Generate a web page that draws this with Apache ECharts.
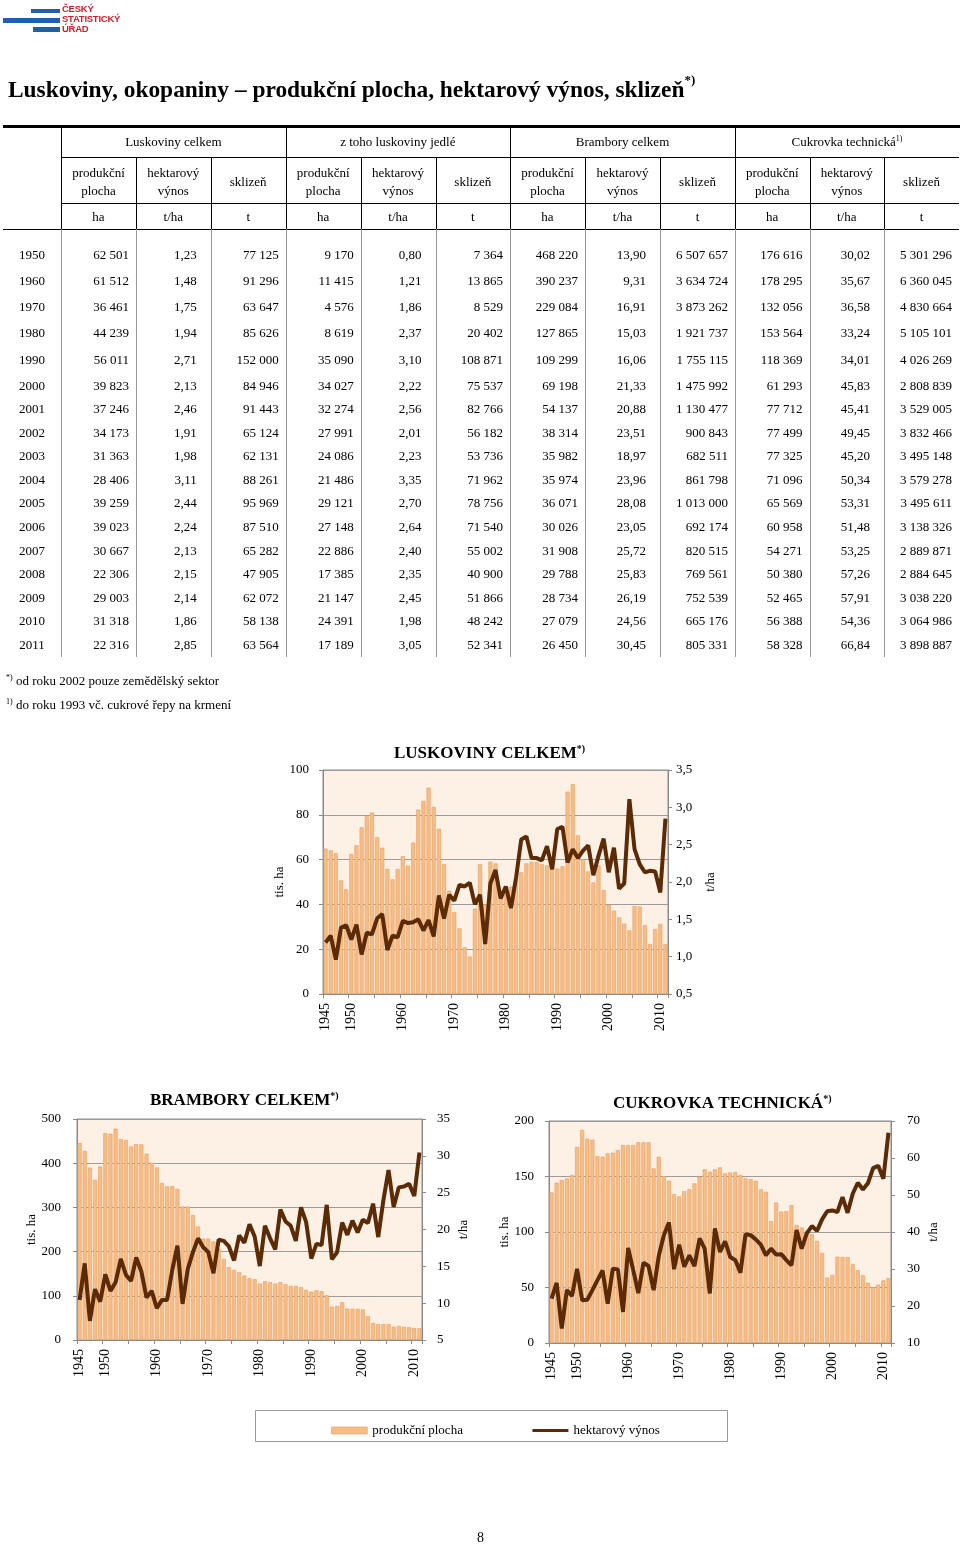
<!DOCTYPE html>
<html><head><meta charset="utf-8">
<script src="https://cdn.jsdelivr.net/npm/echarts@6/dist/echarts.min.js"></script>
<style>
html,body{margin:0;padding:0;background:#fff;}
body{width:960px;height:1546px;position:relative;overflow:hidden;font-family:"Liberation Serif","Times New Roman",serif;color:#000;}
#chart{position:absolute;left:0;top:0;width:960px;height:1546px;z-index:1;}
#page{position:absolute;left:0;top:0;width:960px;height:1546px;z-index:2;pointer-events:none;}
.t{position:absolute;white-space:nowrap;font-size:13px;line-height:18px;}
.ln{position:absolute;background:#000;}
sup{font-size:8px;vertical-align:top;position:relative;top:-3px;}
</style></head><body>
<div id="chart"></div>
<div id="page"></div>
<script>
// ---------------- DATA ----------------
const tableYears = ['1950','1960','1970','1980','1990','2000','2001','2002','2003','2004','2005','2006','2007','2008','2009','2010','2011'];
const luskPlocha = [62501,61512,36461,44239,56011,39823,37246,34173,31363,28406,39259,39023,30667,22306,29003,31318,22316];
const luskVynos  = [1.23,1.48,1.75,1.94,2.71,2.13,2.46,1.91,1.98,3.11,2.44,2.24,2.13,2.15,2.14,1.86,2.85];
const luskSklizen= [77125,91296,63647,85626,152000,84946,91443,65124,62131,88261,95969,87510,65282,47905,62072,58138,63564];
const jedlPlocha = [9170,11415,4576,8619,35090,34027,32274,27991,24086,21486,29121,27148,22886,17385,21147,24391,17189];
const jedlVynos  = [0.80,1.21,1.86,2.37,3.10,2.22,2.56,2.01,2.23,3.35,2.70,2.64,2.40,2.35,2.45,1.98,3.05];
const jedlSklizen= [7364,13865,8529,20402,108871,75537,82766,56182,53736,71962,78756,71540,55002,40900,51866,48242,52341];
const bramPlocha = [468220,390237,229084,127865,109299,69198,54137,38314,35982,35974,36071,30026,31908,29788,28734,27079,26450];
const bramVynos  = [13.90,9.31,16.91,15.03,16.06,21.33,20.88,23.51,18.97,23.96,28.08,23.05,25.72,25.83,26.19,24.56,30.45];
const bramSklizen= [6507657,3634724,3873262,1921737,1755115,1475992,1130477,900843,682511,861798,1013000,692174,820515,769561,752539,665176,805331];
const cukPlocha  = [176616,178295,132056,153564,118369,61293,77712,77499,77325,71096,65569,60958,54271,50380,52465,56388,58328];
const cukVynos   = [30.02,35.67,36.58,33.24,34.01,45.83,45.41,49.45,45.20,50.34,53.31,51.48,53.25,57.26,57.91,54.36,66.84];
const cukSklizen = [5301296,6360045,4830664,5105101,4026269,2808839,3529005,3832466,3495148,3579278,3495611,3138326,2889871,2884645,3038220,3064986,3898887];

const groupNames = ['Luskoviny celkem','z toho luskoviny jedlé','Brambory celkem','Cukrovka technická<sup>1)</sup>'];
const subHeads = ['produkční<br>plocha','hektarový<br>výnos','sklizeň'];
const units = ['ha','t/ha','t'];

// chart categories 1945..2011
const chartYears = [];
for (let y = 1945; y <= 2011; y++) chartYears.push(String(y));

// Luskoviny celkem: plocha (tis. ha), výnos (t/ha) 1945-2011
const luskArea = [64.9,64.1,62.8,50.7,46.7,62.5,66.4,74.4,79.3,81.0,
  70.0,65.3,55.8,51.2,55.8,61.5,57.3,67.6,82.3,86.2,
  92.1,83.5,73.8,58.0,46.1,36.5,29.3,20.8,16.7,38.1,
  57.9,40.0,59.1,58.3,44.0,44.2,47.9,52.1,54.3,58.3,
  59.0,58.8,58.0,57.4,56.5,56.0,57.0,90.3,93.7,70.8,
  60.1,54.7,49.8,57.4,46.4,39.8,37.2,34.2,31.4,28.4,
  39.3,39.0,30.7,22.3,29.0,31.3,22.3];
const luskYield = [1.19,1.28,0.96,1.39,1.42,1.23,1.43,1.03,1.32,1.30,
  1.51,1.57,1.09,1.28,1.26,1.48,1.45,1.46,1.50,1.35,
  1.49,1.27,1.82,1.51,1.83,1.75,1.96,1.94,1.99,1.70,
  1.83,1.17,1.98,2.16,1.78,1.94,1.65,2.06,2.57,2.61,
  2.32,2.32,2.29,2.48,2.17,2.71,2.74,2.26,2.44,2.32,
  2.42,2.49,2.09,2.35,2.58,2.13,2.46,1.91,1.98,3.11,
  2.44,2.24,2.13,2.15,2.14,1.86,2.85];
// Brambory celkem
const bramArea = [445.6,428.0,390.0,362.5,392.7,468.2,466.8,478.0,454.7,452.4,
  438.0,443.4,442.6,421.5,401.0,390.2,355.0,347.4,348.2,342.0,
  302.0,302.0,282.5,256.8,229.6,229.1,222.8,206.2,183.5,164.7,
  158.6,153.3,145.8,139.7,137.5,127.9,133.0,130.7,127.6,130.7,
  126.0,122.4,122.4,119.3,113.3,109.3,112.5,110.3,101.2,75.5,
  77.0,85.3,71.0,71.0,70.5,69.2,54.1,38.3,36.0,36.0,
  36.1,30.0,31.9,29.8,28.7,27.1,26.5];
const bramYield = [10.44,15.4,7.6,11.9,10.2,13.90,11.66,12.84,16.0,13.84,
  13.0,16.2,14.3,10.75,11.66,9.31,10.44,10.44,14.5,17.8,
  9.9,14.6,16.9,18.8,17.6,16.91,14.06,18.6,18.46,17.7,
  15.8,19.2,18.2,20.7,19.05,15.03,20.5,18.8,17.3,22.7,
  21.1,20.5,18.46,23.0,21.0,16.06,18.05,17.9,23.35,15.96,
  16.9,20.95,19.27,21.2,19.6,21.33,20.88,23.51,18.97,23.96,
  28.08,23.05,25.72,25.83,26.19,24.56,30.45];
// Cukrovka technická
const cukArea = [135.6,144.4,146.8,148.3,151.3,176.6,191.9,184.0,183.2,168.4,
  167.8,170.8,171.4,173.8,178.3,178.3,178.3,180.8,180.8,180.8,
  157.3,167.8,150.4,146.2,134.1,132.1,136.8,138.6,143.8,149.8,
  156.4,154.3,156.4,158.2,152.8,153.6,154.0,151.3,148.3,147.7,
  146.2,138.6,136.2,109.8,126.6,118.4,118.8,124.2,106.2,104.0,
  101.0,98.0,92.0,81.2,58.9,61.3,77.7,77.5,77.3,71.1,
  65.6,61.0,54.3,50.4,52.5,56.4,58.3];
const cukYield = [22.0,26.25,13.9,24.3,22.7,30.02,21.55,21.7,24.3,27.0,
  29.6,20.65,30.1,29.9,18.4,35.67,29.7,23.5,31.7,30.8,
  24.3,33.5,39.15,42.6,29.95,36.58,30.6,33.7,30.8,38.25,
  35.5,23.4,41.0,34.6,37.5,33.24,32.4,29.0,39.4,39.15,
  38.0,36.6,33.7,35.5,33.9,34.01,32.4,31.0,40.5,35.5,
  39.6,41.6,40.3,43.4,45.6,45.83,45.41,49.45,45.20,50.34,
  53.31,51.48,53.25,57.26,57.91,54.36,66.84];

// ---------------- PAGE (HTML text) ----------------
const page = document.getElementById('page');
function txt(html, css){ const d=document.createElement('div'); d.className='t'; d.innerHTML=html; Object.assign(d.style, css); page.appendChild(d); return d; }
function box(x,y,w,h,color){ const d=document.createElement('div'); d.className='ln'; Object.assign(d.style,{left:x+'px',top:y+'px',width:w+'px',height:h+'px'}); if(color) d.style.background=color; page.appendChild(d); }

// logo
box(31,9,29,4,'#1f5fae'); box(3,18,57,5,'#1f5fae'); box(33,27,27,5,'#1f5fae');
txt('ČESKÝ<br>STATISTICKÝ<br>ÚŘAD',{left:'62px',top:'4px',fontFamily:'"Liberation Sans",Arial,sans-serif',fontWeight:'bold',fontSize:'9.5px',lineHeight:'10px',color:'#cc1f2a',letterSpacing:'-0.25px'});

// title
txt('Luskoviny, okopaniny – produkční plocha, hektarový výnos, sklizeň<sup style="font-size:13px;top:-9px">*)</sup>',
  {left:'8px',top:'74px',fontSize:'23.4px',lineHeight:'30px',fontWeight:'bold'});

// table
const colB = [61,136,210.7,285.7,360.7,435.5,510,585,660,735,809.5,884,959];
box(3,125,957,3);
box(61,157,898,1); box(61,203,898,1); box(3,229,956,1);
[61,285.7,510,735].forEach(x=>box(x,128,1,101));
colB.forEach((x,i)=>{ if(i%3!==0) box(x,157,1,72); });
groupNames.forEach((g,i)=>{ txt(g,{left:colB[i*3]+'px',width:(colB[i*3+3]-colB[i*3])+'px',top:'133px',textAlign:'center'}); });
for(let c=0;c<12;c++){
  const sh = subHeads[c%3];
  const two = sh.indexOf('<br>')>=0;
  txt(sh,{left:colB[c]+'px',width:(colB[c+1]-colB[c])+'px',top:(two?'164px':'173px'),textAlign:'center'});
  txt(units[c%3],{left:colB[c]+'px',width:(colB[c+1]-colB[c])+'px',top:'208px',textAlign:'center'});
}
// data area vertical lines
colB.forEach((x,i)=>{ if(i>0 && i<12) box(x,229,1,428,'#999'); });
box(61,229,1,428,'#999');

const fmtInt = n => String(n).replace(/\B(?=(\d{3})+(?!\d))/g,'\u00a0');
const fmtDec = n => n.toFixed(2).replace('.',',');
const cols = [luskPlocha,luskVynos,luskSklizen,jedlPlocha,jedlVynos,jedlSklizen,bramPlocha,bramVynos,bramSklizen,cukPlocha,cukVynos,cukSklizen];
const rowY = [255,281,307,333,360,386,409,433,456,480,503,527,551,574,598,621,645];
tableYears.forEach((yr,r)=>{
  txt(yr,{left:'3px',width:'58px',top:(rowY[r]-9)+'px',textAlign:'center'});
  cols.forEach((arr,c)=>{
    const isDec = (c%3===1);
    const s = isDec ? fmtDec(arr[r]) : fmtInt(arr[r]);
    const right = 960 - colB[c+1] + (isDec?14:7);
    txt(s,{right:right+'px',top:(rowY[r]-9)+'px',textAlign:'right'});
  });
});

// footnotes
txt('<sup>*)</sup> od roku 2002 pouze zemědělský sektor',{left:'6px',top:'672px'});
txt('<sup>1)</sup> do roku 1993 vč. cukrové řepy na krmení',{left:'6px',top:'696px'});
// page number
txt('8',{left:'477px',top:'1529px',fontSize:'14px'});

// ---------------- CHARTS ----------------
const serif = '"Liberation Serif","Times New Roman",serif';
const chart = echarts.init(document.getElementById('chart'));
const AX = '#8a8a8a';
const barColor = '#f7bd88', barEdge = '#e59d5b', lineColor = '#5b2a07';

const grids = [
  {left:323, top:770, width:345, height:224},
  {left:77, top:1119, width:345, height:221},
  {left:549, top:1121, width:342, height:222}
].map(g=>Object.assign(g,{show:true, backgroundColor:'#fdf1e5', borderColor:AX, borderWidth:1}));

function xAx(gi){
  return {type:'category', gridIndex:gi, data:chartYears, boundaryGap:true,
    axisLine:{show:true,lineStyle:{color:AX}},
    axisTick:{show:true, interval:(i)=>i%5===0, length:4, lineStyle:{color:AX}},
    axisLabel:{interval:(i,v)=> v==='1945' || Number(v)%10===0, rotate:90, fontFamily:serif, fontSize:14, color:'#000', margin:9},
    splitLine:{show:false}};
}
function yL(gi,min,max,step,gap,margin){
  return {type:'value', gridIndex:gi, position:'left', min, max, interval:step,
    axisLine:{show:true,lineStyle:{color:AX}}, axisTick:{show:true,length:4,lineStyle:{color:AX}},
    axisLabel:{fontFamily:serif, fontSize:13, color:'#000', margin},
    splitLine:{show:true, lineStyle:{color:'#9c9c9c', width:1}},
    name:'tis. ha', nameLocation:'middle', nameRotate:90, nameGap:gap,
    nameTextStyle:{fontFamily:serif, fontSize:13, color:'#000'}};
}
function yR(gi,min,max,step,gap,margin,dec){
  return {type:'value', gridIndex:gi, position:'right', min, max, interval:step,
    axisLine:{show:true,lineStyle:{color:AX}}, axisTick:{show:true,length:4,lineStyle:{color:AX}},
    axisLabel:{fontFamily:serif, fontSize:13, color:'#000', margin, formatter:v=> dec? v.toFixed(1).replace('.',','): String(v)},
    splitLine:{show:false},
    name:'t/ha', nameLocation:'middle', nameRotate:90, nameGap:gap,
    nameTextStyle:{fontFamily:serif, fontSize:13, color:'#000'}};
}
function bars(gi,data){
  return {type:'bar', name:'produkční plocha', xAxisIndex:gi, yAxisIndex:gi*2, data,
    barCategoryGap:'22%', itemStyle:{color:barColor, borderColor:barEdge, borderWidth:0.6}, z:2, silent:true};
}
function line(gi,data){
  return {type:'line', name:'hektarový výnos', xAxisIndex:gi, yAxisIndex:gi*2+1, data,
    symbol:'none', lineStyle:{color:lineColor, width:4}, itemStyle:{color:lineColor}, z:3, silent:true, animation:false};
}
const titleRich = {a:{fontFamily:serif, fontSize:17, fontWeight:'bold', color:'#000'}, s:{fontFamily:serif, fontSize:10, color:'#000', padding:[0,0,9,0]}};

chart.setOption({
  animation:false,
  title:[
    {text:'{a|LUSKOVINY CELKEM}{s|*)}', left:389, top:739, textStyle:{rich:titleRich}},
    {text:'{a|BRAMBORY CELKEM}{s|*)}', left:145, top:1086, textStyle:{rich:titleRich}},
    {text:'{a|CUKROVKA TECHNICKÁ}{s|*)}', left:608, top:1089, textStyle:{rich:titleRich}}
  ],
  grid:grids,
  xAxis:[xAx(0),xAx(1),xAx(2)],
  yAxis:[yL(0,0,100,20,34,14), yR(0,0.5,3.5,0.5,36,8,true),
         yL(1,0,500,100,39,16), yR(1,5,35,5,35,15,false),
         yL(2,0,200,50,38,15), yR(2,10,70,10,36,16,false)],
  legend:{data:[
      {name:'produkční plocha', icon:'rect', itemStyle:{color:barColor, borderColor:barEdge, borderWidth:0.6}},
      {name:'hektarový výnos', itemStyle:{opacity:0}, lineStyle:{color:lineColor, width:3}}
    ], left:326, top:1419, itemWidth:36, itemHeight:7, itemGap:68,
    selectedMode:false, textStyle:{fontFamily:serif, fontSize:13, color:'#000'}},
  graphic:[{type:'rect', shape:{x:255.5,y:1410.5,width:472,height:31}, style:{fill:'none', stroke:'#9a9a9a', lineWidth:1}}],
  series:[bars(0,luskArea), line(0,luskYield), bars(1,bramArea), line(1,bramYield), bars(2,cukArea), line(2,cukYield)]
});
</script>
</body></html>
